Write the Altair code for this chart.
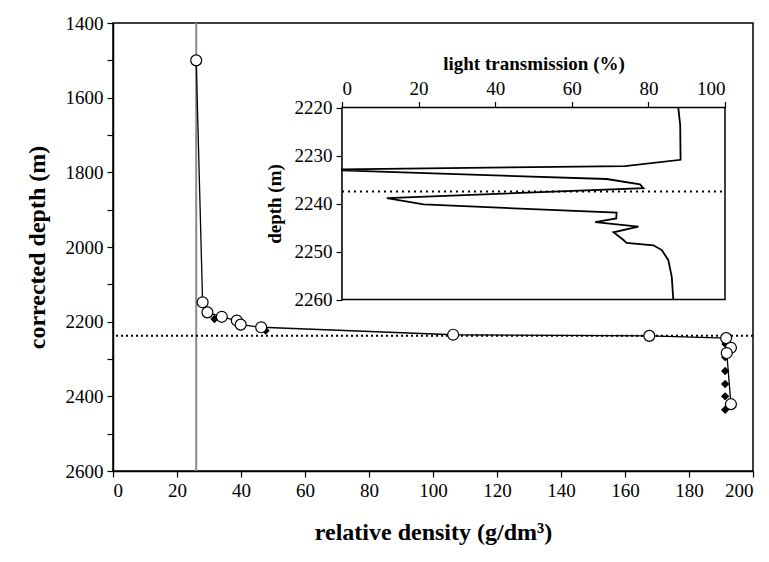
import altair as alt
import pandas as pd

# ---- main panel data ----
circ_density = [26.0, 28.0, 29.5, 34.0, 38.7, 39.9, 46.3, 106.3, 167.6, 191.6, 193.1, 191.8, 193.1]
circ_depth = [1500, 2148, 2175, 2187, 2197, 2208, 2215, 2235, 2238, 2244, 2270, 2284, 2421]
dia_density = [31.7, 47.7, 191.4, 191.3, 191.3, 191.3, 191.3, 191.3]
dia_depth = [2193, 2224, 2260, 2295, 2332, 2367, 2400, 2436]
ref_density = [26.0]
ref_depth = [2237.5]

# ---- inset data ----
trans = [87.8, 88.0, 88.3, 88.4, 73.9, 0.0, 0.0, 69.1, 77.8, 78.7, 11.7, 21.3,
         71.7, 71.6, 66.1, 77.4, 70.9, 73.5, 74.3, 81.3, 83.5, 85.2, 86.1, 86.5]
idepth = [2220, 2221.5, 2223.6, 2230.9, 2232.2, 2232.9, 2233.1, 2234.9, 2236.0, 2236.8,
          2238.9, 2240.2, 2241.9, 2243.1, 2243.9, 2244.8, 2246.0, 2247.6, 2248.2, 2248.7,
          2249.7, 2251.8, 2255.3, 2260]
inset_x_domain = [0, 100]
inset_y_domain = [2220, 2260]
inset_ref = [2237.5]

W, H = 640, 448
FONT = "Liberation Serif, Times New Roman, serif"

circ_df = pd.DataFrame({"density": circ_density, "depth": circ_depth})
dia_df = pd.DataFrame({"density": dia_density, "depth": dia_depth})
gray_df = pd.DataFrame({"density": ref_density})
dot_df = pd.DataFrame({"depth": ref_depth})
ins_df = pd.DataFrame({"trans": trans, "idepth": idepth, "seq": list(range(len(trans)))})
box_df = pd.DataFrame({"trans": [inset_x_domain[0]], "trans2": [inset_x_domain[1]],
                       "idepth": [inset_y_domain[0]], "idepth2": [inset_y_domain[1]]})
idot_df = pd.DataFrame({"trans": [inset_x_domain[0]], "trans2": [inset_x_domain[1]],
                        "idepth": inset_ref})

common = dict(labelFont=FONT, titleFont=FONT, titleFontWeight="bold",
              labelFontWeight="normal", labelColor="black", titleColor="black",
              domainColor="black", tickColor="black", grid=False)

xs = alt.Scale(domain=[0, 200], nice=False, zero=False)
ys = alt.Scale(domain=[1400, 2600], reverse=True, nice=False, zero=False)
x_axis = alt.Axis(values=list(range(0, 201, 20)), title="relative density (g/dm³)",
                  titlePadding=20, labelPadding=4, tickSize=6, labelFontSize=19,
                  titleFontSize=24, **common)
y_axis = alt.Axis(values=list(range(1400, 2601, 100)), format="d",
                  labelExpr="datum.value % 200 == 0 ? datum.label : ''",
                  title="corrected depth (m)", titlePadding=16, labelPadding=4,
                  tickSize=6, labelFontSize=19, titleFontSize=24, **common)

X = alt.X("density:Q", scale=xs, axis=x_axis)
Y = alt.Y("depth:Q", scale=ys, axis=y_axis)

gray = alt.Chart(gray_df).mark_rule(color="#8a8a8a", strokeWidth=2).encode(x=X)
dotted = alt.Chart(dot_df).mark_rule(color="black", strokeWidth=2, strokeDash=[2, 3]).encode(y=Y)
line = alt.Chart(circ_df).mark_line(color="black", strokeWidth=1.3).encode(
    x=X, y=Y, order="depth:Q")
dias = alt.Chart(dia_df).mark_point(shape="diamond", filled=True, color="black", size=70, opacity=1).encode(x=X, y=Y)
circs = alt.Chart(circ_df).mark_point(shape="circle", filled=True, fill="white", stroke="black",
                                      strokeWidth=1.2, size=120, opacity=1).encode(x=X, y=Y)
main = alt.layer(gray, dotted, line, dias, circs)

# inset: pixel ranges inside the main plot area
ixs = alt.Scale(domain=inset_x_domain, range=[229, 612], nice=False, zero=False)
iys = alt.Scale(domain=inset_y_domain, range=[84.5, 276.5], nice=False, zero=False)
ix_axis = alt.Axis(orient="top", offset=-84.5, values=[0, 20, 40, 60, 80, 100],
                   title="light transmission (%)", titleFontSize=19, labelFontSize=19,
                   tickSize=6, labelPadding=3, titlePadding=6, **common)
iy_axis = alt.Axis(orient="left", offset=-229, values=[2220, 2230, 2240, 2250, 2260],
                   format="d", title="depth (m)", titleFontSize=19, labelFontSize=19,
                   tickSize=6, labelPadding=4, titlePadding=10, **common)
IX = alt.X("trans:Q", scale=ixs, axis=ix_axis)
IY = alt.Y("idepth:Q", scale=iys, axis=iy_axis)

box = alt.Chart(box_df).mark_rect(fill="white", stroke="black", strokeWidth=1.5).encode(
    x=IX, x2="trans2:Q", y=IY, y2="idepth2:Q")
idot = alt.Chart(idot_df).mark_rule(color="black", strokeWidth=2, strokeDash=[2, 4]).encode(
    x=IX, x2="trans2:Q", y=IY)
iline = alt.Chart(ins_df).mark_line(color="black", strokeWidth=1.8).encode(
    x=IX, y=IY, order="seq:Q")
inset = alt.layer(box, idot, iline)

chart = alt.layer(main, inset).resolve_scale(
    x="independent", y="independent"
).resolve_axis(
    x="independent", y="independent"
).properties(
    width=W, height=H,
    autosize=alt.AutoSizeParams(type="none"),
    padding={"left": 105, "top": 15, "right": 8, "bottom": 80},
).configure_view(
    stroke="black", strokeWidth=1.5
).configure_axis(
    labelFont=FONT, titleFont=FONT, domainWidth=1.5, tickWidth=1.2,
)

chart.save("out.html", embed_options={"renderer": "svg", "actions": False})
